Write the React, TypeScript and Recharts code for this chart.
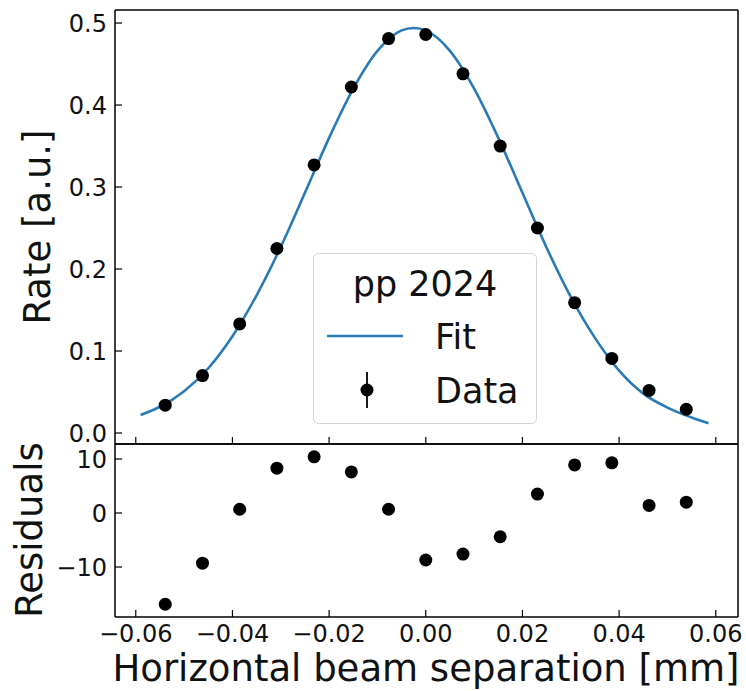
import * as React from "react"
import { ComposedChart, Line, Scatter, XAxis, YAxis } from "recharts"

// beam separation of each scan step [mm]
const scanX = [
  -0.0539, -0.0462, -0.0385, -0.0308, -0.0231, -0.0154, -0.0077, 0, 0.0077, 0.0154, 0.0231, 0.0308, 0.0385,
  0.0462, 0.0539,
]
const rate = [0.034, 0.07, 0.133, 0.225, 0.327, 0.422, 0.481, 0.486, 0.438, 0.35, 0.25, 0.159, 0.091, 0.052, 0.029]
const residuals = [-16.9, -9.3, 0.7, 8.3, 10.4, 7.6, 0.7, -8.7, -7.6, -4.4, 3.5, 8.9, 9.3, 1.4, 2.0]

// fit curve
const fitX = [
  -0.059, -0.055, -0.05, -0.045, -0.04, -0.035, -0.03, -0.025, -0.02, -0.015, -0.01, -0.005, -0.0025, 0, 0.005, 0.01,
  0.015, 0.02, 0.025, 0.03, 0.035, 0.04, 0.045, 0.05, 0.055, 0.0585,
]
const fitY = [
  0.022, 0.032, 0.051, 0.079, 0.118, 0.168, 0.227, 0.293, 0.36, 0.42, 0.466, 0.491, 0.494, 0.491, 0.466, 0.42, 0.36,
  0.293, 0.226, 0.166, 0.116, 0.076, 0.048, 0.031, 0.019, 0.012,
]

const xTicks = [-0.06, -0.04, -0.02, 0, 0.02, 0.04, 0.06]
const rateTicks = [0, 0.1, 0.2, 0.3, 0.4, 0.5]
const residTicks = [-10, 0, 10]

const X_DOMAIN: [number, number] = [-0.0643, 0.0646]
const RATE_DOMAIN: [number, number] = [-0.0134, 0.5159]
const RESID_DOMAIN: [number, number] = [-19.26, 12.78]

const FONT = "DejaVu Sans"
const INK = "#111"
const FIT_COLOR = "#2a7ab6"

// frame edges (chart-local px)
const LEFT = 115
const RIGHT = 738
const TOP = 10
const TOP_BOTTOM = 444
const RES_BOTTOM = 183

const rateRows = scanX.map((x, i) => ({ x, y: rate[i] }))
const residRows = scanX.map((x, i) => ({ x, y: residuals[i] }))
const fitRows = fitX.map((x, i) => ({ x, y: fitY[i] }))

const minus = (s: string) => s.replace("-", "\u2212")

const axisLine = { stroke: "#000", strokeWidth: 1.5 }

// matplotlib style inward tick, with optional label
const InTick = (props: any) => {
  const { payload, side, edge, fmt } = props
  const c = payload.coordinate
  const len = 7
  const stroke = "#000"
  if (side === "left") {
    return (
      <g>
        <line x1={edge} x2={edge + len} y1={c} y2={c} stroke={stroke} strokeWidth={1.2} />
        {fmt && (
          <text x={edge - 8} y={c} dy="0.36em" textAnchor="end" fontSize={24} fontFamily={FONT} fill={INK}>
            {fmt(payload.value)}
          </text>
        )}
      </g>
    )
  }
  if (side === "right") {
    return <line x1={edge - len} x2={edge} y1={c} y2={c} stroke={stroke} strokeWidth={1.2} />
  }
  if (side === "top") {
    return <line x1={c} x2={c} y1={edge} y2={edge + len} stroke={stroke} strokeWidth={1.2} />
  }
  return (
    <g>
      <line x1={c} x2={c} y1={edge - len} y2={edge} stroke={stroke} strokeWidth={1.2} />
      {fmt && (
        <text x={c} y={edge + 8} dy="0.72em" textAnchor="middle" fontSize={24} fontFamily={FONT} fill={INK}>
          {fmt(payload.value)}
        </text>
      )}
    </g>
  )
}

const Dot = (props: any) => <circle cx={props.cx} cy={props.cy} r={6.5} fill="#000" />

const fmtRate = (v: number) => v.toFixed(1)
const fmtX = (v: number) => minus(v.toFixed(2))
const fmtRes = (v: number) => minus(String(v))

export default function App() {
  return (
    <div style={{ position: "absolute", left: 0, top: 0, width: 746, height: 691, background: "#fff" }}>
      <div style={{ position: "absolute", left: 0, top: 434 }}>
        <ComposedChart width={746} height={257} margin={{ top: 9, right: 7, bottom: 0, left: 0 }}>
          <XAxis
            xAxisId="b"
            dataKey="x"
            type="number"
            domain={X_DOMAIN}
            ticks={xTicks}
            interval={0}
            height={74}
            tickSize={0}
            tickLine={false}
            tick={(p: any) => <InTick {...p} side="bottom" edge={RES_BOTTOM} fmt={fmtX} />}
            axisLine={axisLine}
          />
          <XAxis
            xAxisId="t"
            orientation="top"
            dataKey="x"
            type="number"
            domain={X_DOMAIN}
            ticks={xTicks}
            interval={0}
            height={1}
            tickSize={0}
            tickLine={false}
            tick={(p: any) => <InTick {...p} side="top" edge={TOP} />}
            axisLine={axisLine}
          />
          <YAxis
            yAxisId="l"
            dataKey="y"
            type="number"
            domain={RESID_DOMAIN}
            ticks={residTicks}
            interval={0}
            width={115}
            tickSize={0}
            tickLine={false}
            tick={(p: any) => <InTick {...p} side="left" edge={LEFT} fmt={fmtRes} />}
            axisLine={axisLine}
          />
          <YAxis
            yAxisId="r"
            orientation="right"
            dataKey="y"
            type="number"
            domain={RESID_DOMAIN}
            ticks={residTicks}
            interval={0}
            width={1}
            tickSize={0}
            tickLine={false}
            tick={(p: any) => <InTick {...p} side="right" edge={RIGHT} />}
            axisLine={axisLine}
          />
          <Scatter data={residRows} xAxisId="b" yAxisId="l" dataKey="y" shape={Dot} isAnimationActive={false} />
        </ComposedChart>
      </div>

      <div style={{ position: "absolute", left: 0, top: 0, zIndex: 1 }}>
        <ComposedChart width={746} height={460} margin={{ top: 9, right: 7, bottom: 15, left: 0 }}>
          <XAxis
            xAxisId="b"
            dataKey="x"
            type="number"
            domain={X_DOMAIN}
            ticks={xTicks}
            interval={0}
            height={1}
            tickSize={0}
            tickLine={false}
            tick={(p: any) => <InTick {...p} side="bottom" edge={TOP_BOTTOM} />}
            axisLine={axisLine}
          />
          <XAxis
            xAxisId="t"
            orientation="top"
            dataKey="x"
            type="number"
            domain={X_DOMAIN}
            ticks={xTicks}
            interval={0}
            height={1}
            tickSize={0}
            tickLine={false}
            tick={(p: any) => <InTick {...p} side="top" edge={TOP} />}
            axisLine={axisLine}
          />
          <YAxis
            yAxisId="l"
            dataKey="y"
            type="number"
            domain={RATE_DOMAIN}
            ticks={rateTicks}
            interval={0}
            width={115}
            tickSize={0}
            tickLine={false}
            tick={(p: any) => <InTick {...p} side="left" edge={LEFT} fmt={fmtRate} />}
            axisLine={axisLine}
          />
          <YAxis
            yAxisId="r"
            orientation="right"
            dataKey="y"
            type="number"
            domain={RATE_DOMAIN}
            ticks={rateTicks}
            interval={0}
            width={1}
            tickSize={0}
            tickLine={false}
            tick={(p: any) => <InTick {...p} side="right" edge={RIGHT} />}
            axisLine={axisLine}
          />
          <Line
            data={fitRows}
            xAxisId="b"
            yAxisId="l"
            dataKey="y"
            type="monotone"
            stroke={FIT_COLOR}
            strokeWidth={2.6}
            dot={false}
            activeDot={false}
            isAnimationActive={false}
          />
          <Scatter data={rateRows} xAxisId="b" yAxisId="l" dataKey="y" shape={Dot} isAnimationActive={false} />
        </ComposedChart>
      </div>

      {/* axis titles and legend */}
      <svg
        width={746}
        height={691}
        style={{ position: "absolute", left: 0, top: 0, pointerEvents: "none", zIndex: 2 }}
        fontFamily={FONT}
        fill={INK}
      >
        <text x={426} y={681} fontSize={37} textAnchor="middle">
          Horizontal beam separation [mm]
        </text>
        <text x={50} y={227} fontSize={37} textAnchor="middle" transform="rotate(-90 50 227)">
          Rate [a.u.]
        </text>
        <text x={42} y={530} fontSize={37} textAnchor="middle" transform="rotate(-90 42 530)">
          Residuals
        </text>

        <rect x={313.5} y={253.5} width={223} height={170} rx={5} fill="#fff" fillOpacity={0.8} stroke="#d4d4d4" />
        <text x={425} y={296} fontSize={35} textAnchor="middle">
          pp 2024
        </text>
        <line x1={327} x2={403} y1={336} y2={336} stroke={FIT_COLOR} strokeWidth={2.6} />
        <text x={435} y={349} fontSize={35}>
          Fit
        </text>
        <line x1={367} x2={367} y1={372} y2={408} stroke="#000" strokeWidth={1.8} />
        <circle cx={367} cy={390} r={6.5} fill="#000" />
        <text x={435} y={403} fontSize={35}>
          Data
        </text>
      </svg>
    </div>
  )
}
